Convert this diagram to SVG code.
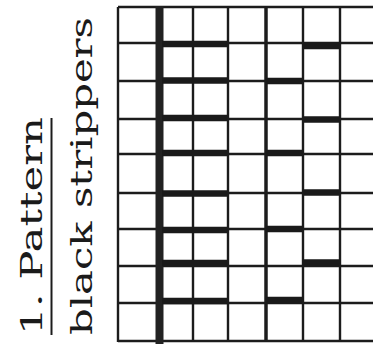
<svg xmlns="http://www.w3.org/2000/svg" width="373" height="347" viewBox="0 0 373 347">
<style>
.t{font-family:"DejaVu Serif","Liberation Serif",serif;font-size:30px;fill:#1a1a1a}
.g{stroke:#1c1c1c;stroke-width:2.4;fill:none}
.b{stroke:#1a1a1a;stroke-width:6.5;fill:none}
</style>
<rect width="373" height="347" fill="#ffffff"/>
<g id="label">
<text class="t" transform="translate(42,335) rotate(-90)" textLength="218" lengthAdjust="spacingAndGlyphs">1. Pattern</text>
<line x1="51.5" y1="335" x2="51.5" y2="118" stroke="#1c1c1c" stroke-width="2"/>
<text class="t" transform="translate(92,335) rotate(-90)" textLength="318" lengthAdjust="spacingAndGlyphs">black strippers</text>
</g>
<g id="grid">
<path class="g" d="M118,7H373M118,43H373M118,81H373M118,119H373M118,154H373M118,193H373M118,229H373M118,266H373M118,303H373M118,341H373"/>
<path class="g" d="M118,7V342M193,7V342M228,7V342M303,7V342M340,7V342"/>
<line x1="266" y1="7" x2="266" y2="342" stroke="#1c1c1c" stroke-width="3.5"/>
<line x1="159.5" y1="6" x2="159.5" y2="344" stroke="#222" stroke-width="8"/>
</g>
<g id="bars">
<path class="b" d="M162,44H228M162,80.5H228M162,118H228M162,153H228M162,193.5H228M162,230H228M162,263H228M162,301H228"/>
<path class="b" d="M266,81H303M266,153H303M266,229H303M266,300H303"/>
<path class="b" d="M303,46H340M303,119.5H340M303,192.5H340M303,262.5H340"/>
</g>
</svg>
